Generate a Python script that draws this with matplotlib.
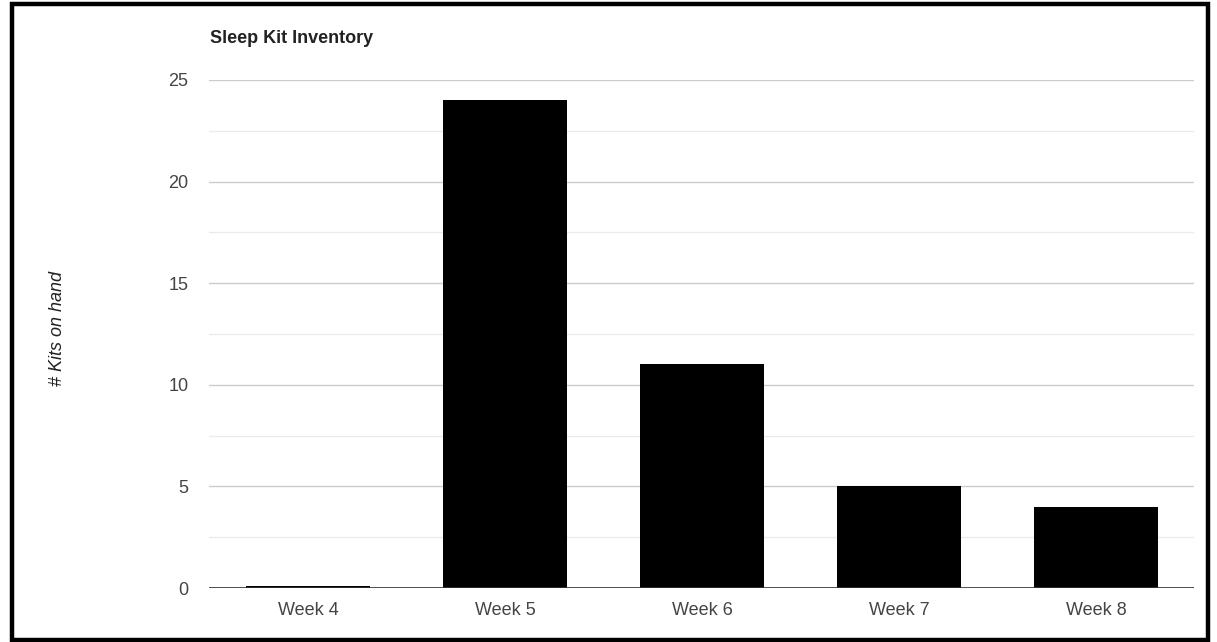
import matplotlib
matplotlib.use("Agg")
import matplotlib.pyplot as plt
from matplotlib.patches import Rectangle

categories = ["Week 4", "Week 5", "Week 6", "Week 7", "Week 8"]
kits = [0.1, 24, 11, 5, 4]
yticks = [0, 5, 10, 15, 20, 25]

plt.rcParams['font.family'] = ['Liberation Sans', 'DejaVu Sans']

fig = plt.figure(figsize=(12.17, 6.42), dpi=100)
ax = fig.add_axes([0.1721, 0.0841, 0.8094, 0.7913])

x = list(range(len(categories)))
ax.bar(x, kits, width=0.625, color='black', zorder=3)
ax.set_xlim(-0.5, len(categories) - 0.5)
ax.set_ylim(0, 25)
ax.set_yticks(yticks)
ax.set_yticks([2.5, 7.5, 12.5, 17.5, 22.5], minor=True)
ax.set_xticks(x)
ax.set_xticklabels(categories)

for s in ax.spines.values():
    s.set_visible(False)
ax.axhline(0, color='#333333', lw=1.2, zorder=4)
ax.grid(axis='y', which='major', color='#cccccc', lw=1, zorder=0)
ax.grid(axis='y', which='minor', color='#ebebeb', lw=1, zorder=0)
ax.tick_params(axis='both', which='both', length=0, labelsize=13, colors='#444444')
ax.tick_params(axis='y', pad=15)
ax.tick_params(axis='x', pad=10)

fig.text(0.1725, 1 - 43 / 642, "Sleep Kit Inventory", fontsize=13, fontweight='bold', color='#222222',
         ha='left', va='baseline')
fig.text(57 / 1217, 1 - 329 / 642, "# Kits on hand", fontsize=13, style='italic', color='#222222',
         rotation=90, ha='center', va='center')

fig.patches.append(Rectangle((12/1217, 2/642), 1196/1217, 636/642, transform=fig.transFigure,
                             fill=False, edgecolor='black', lw=3.2, zorder=10))

fig.savefig("out.png", dpi=100)
